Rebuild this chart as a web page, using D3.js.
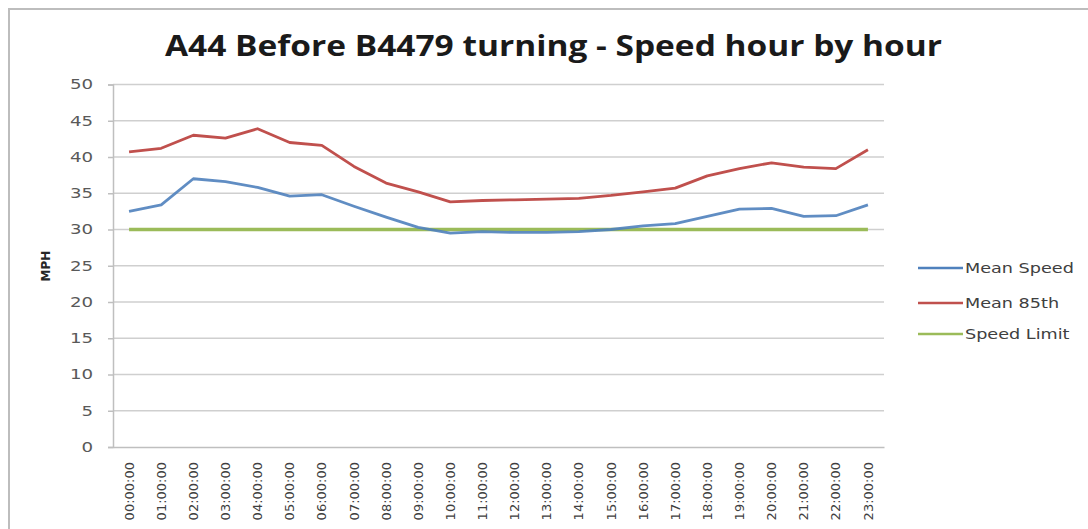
<!DOCTYPE html>
<html>
<head>
<meta charset="utf-8">
<script src="https://cdn.jsdelivr.net/npm/d3@7"></script>
<style>
  body { margin: 0; background: #fff; }
</style>
</head>
<body>
<div id="maincontent"></div>
<script>
// data
var hours = ["00:00:00", "01:00:00", "02:00:00", "03:00:00", "04:00:00", "05:00:00",
             "06:00:00", "07:00:00", "08:00:00", "09:00:00", "10:00:00", "11:00:00",
             "12:00:00", "13:00:00", "14:00:00", "15:00:00", "16:00:00", "17:00:00",
             "18:00:00", "19:00:00", "20:00:00", "21:00:00", "22:00:00", "23:00:00"];
var meanSpeed = [32.5, 33.4, 37.0, 36.6, 35.8, 34.6, 34.8, 33.2, 31.7, 30.3, 29.5, 29.7,
                 29.6, 29.6, 29.7, 30.0, 30.5, 30.8, 31.8, 32.8, 32.9, 31.8, 31.9, 33.4];
var mean85th = [40.7, 41.2, 43.0, 42.6, 43.9, 42.0, 41.6, 38.7, 36.4, 35.2, 33.8, 34.0,
                34.1, 34.2, 34.3, 34.7, 35.2, 35.7, 37.4, 38.4, 39.2, 38.6, 38.4, 41.0];
var speedLimit = [30, 30, 30, 30, 30, 30, 30, 30, 30, 30, 30, 30,
                  30, 30, 30, 30, 30, 30, 30, 30, 30, 30, 30, 30];
var yTicks = [0, 5, 10, 15, 20, 25, 30, 35, 40, 45, 50];
var seriesNames = ["Mean Speed", "Mean 85th", "Speed Limit"];
var seriesColors = ["#4f81bd", "#c0504d", "#9bbb59"];

var w = 1088;
var h = 529;
// plot area
var plotLeft = 113, plotRight = 884, plotTop = 84.5, plotBottom = 447;
// the picture is a bit stretched sideways, so texts get wider too
var stretch = 1.3;

var svg = d3.select("#maincontent")
              .append("svg")
              .attr("width", w)
              .attr("height", h)
              .style("display", "block");

// chart frame
svg.append("rect")
    .attr("x", 9).attr("y", 9)
    .attr("width", w + 20).attr("height", h + 20)
    .attr("fill", "#fff")
    .attr("stroke", "#bdbdbd")
    .attr("stroke-width", 2);

svg.append("text")
    .text("A44 Before B4479 turning - Speed hour by hour")
    .attr("x", 165).attr("y", 56)
    .attr("textLength", 777)
    .attr("lengthAdjust", "spacingAndGlyphs")
    .attr("font-family", "'Open Sans', sans-serif")
    .attr("font-weight", "bold")
    .attr("font-size", "28px")
    .attr("fill", "#1a1a1a");

var x = d3.scaleBand().domain(hours).range([plotLeft, plotRight]);
var y = d3.scaleLinear().domain([0, 50]).range([plotBottom, plotTop]);

// gridlines
svg.append("g")
    .selectAll("line")
    .data(yTicks.filter(function(d) { return d > 0; }))
    .enter()
    .append("line")
    .attr("x1", plotLeft).attr("x2", plotRight)
    .attr("y1", function(d) { return y(d); })
    .attr("y2", function(d) { return y(d); })
    .attr("stroke", "#cfcfcf")
    .attr("stroke-width", 1.5);

// y axis
var yAxis = svg.append("g")
    .attr("transform", "translate(" + plotLeft + ",0)")
    .call(d3.axisLeft(y).tickValues(yTicks).tickSize(5));
yAxis.select(".domain").attr("stroke", "#bfbfbf").attr("stroke-width", 1.5);
yAxis.selectAll(".tick line").attr("stroke", "#bfbfbf").attr("stroke-width", 1.5);
yAxis.selectAll("text")
    .attr("x", -20 / stretch)
    .attr("transform", "scale(" + stretch + ",1)")
    .attr("font-family", "'DejaVu Sans', sans-serif")
    .attr("font-size", "14px")
    .attr("fill", "#595959");

// x axis
var xAxis = svg.append("g")
    .attr("transform", "translate(0," + plotBottom + ")")
    .call(d3.axisBottom(x).tickSize(0).tickSizeOuter(0));
xAxis.select(".domain").attr("stroke", "#bfbfbf").attr("stroke-width", 1.5);
xAxis.selectAll("text")
    .attr("transform", "rotate(-90)")
    .attr("text-anchor", "end")
    .attr("x", -15)
    .attr("y", 0)
    .attr("dy", "0.35em")
    .attr("font-family", "'DejaVu Sans', sans-serif")
    .attr("font-size", "13px")
    .attr("fill", "#404040");

svg.append("text")
    .text("MPH")
    .attr("transform", "translate(50,266) rotate(-90)")
    .attr("text-anchor", "middle")
    .attr("font-family", "'DejaVu Sans', sans-serif")
    .attr("font-weight", "bold")
    .attr("font-size", "12px")
    .attr("fill", "#262626");

// lines
var line = d3.line()
    .x(function(d, i) { return x(hours[i]) + x.bandwidth() / 2; })
    .y(function(d) { return y(d); });

svg.append("path")
    .datum(speedLimit)
    .attr("d", line)
    .attr("fill", "none")
    .attr("stroke", seriesColors[2])
    .attr("stroke-width", 3.5);
svg.append("path")
    .datum(mean85th)
    .attr("d", line)
    .attr("fill", "none")
    .attr("stroke", seriesColors[1])
    .attr("stroke-width", 2.8)
    .attr("stroke-linejoin", "round");
svg.append("path")
    .datum(meanSpeed)
    .attr("d", line)
    .attr("fill", "none")
    .attr("stroke", seriesColors[0])
    .attr("stroke-width", 2.8)
    .attr("stroke-linejoin", "round")
    .attr("opacity", 0.9);

// legend
var legendY = [268, 303, 334];
var legend = svg.selectAll(".legend")
    .data(seriesNames)
    .enter()
    .append("g")
    .attr("transform", function(d, i) { return "translate(918," + legendY[i] + ")"; });
legend.append("line")
    .attr("x1", 0).attr("x2", 45)
    .attr("stroke", function(d, i) { return seriesColors[i]; })
    .attr("stroke-width", 2.5);
legend.append("text")
    .text(function(d) { return d; })
    .attr("x", 47 / 1.26)
    .attr("dy", "0.35em")
    .attr("transform", "scale(1.26,1)")
    .attr("font-family", "'DejaVu Sans', sans-serif")
    .attr("font-size", "14px")
    .attr("fill", "#404040");
</script>
</body>
</html>
